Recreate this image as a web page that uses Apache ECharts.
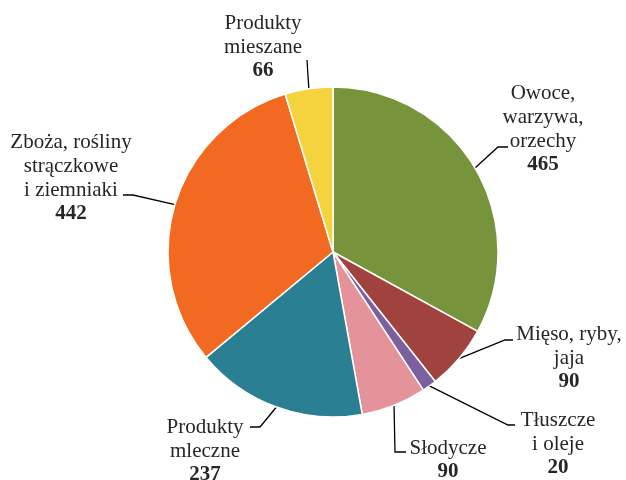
<!DOCTYPE html>
<html>
<head>
<meta charset="utf-8">
<script src="https://cdn.jsdelivr.net/npm/echarts@6/dist/echarts.min.js"></script>
<style>html,body{margin:0;padding:0;background:#fff}#c{width:626px;height:480px}</style>
</head>
<body>
<div id="c"></div>
<script>
const categories = [
  'Owoce,\nwarzywa,\norzechy',
  'Mięso, ryby,\njaja',
  'Tłuszcze\ni oleje',
  'Słodycze',
  'Produkty\nmleczne',
  'Zboża, rośliny\nstrączkowe\ni ziemniaki',
  'Produkty\nmieszane'
];
const values = [465, 90, 20, 90, 237, 442, 66];
const colors = ['#77933C', '#A0433F', '#7C5F9D', '#E5939A', '#2A7F93', '#F26A22', '#F4D33F'];

// label layout: label centre and leader bend points (layout only)
const labelPos = [
  {x: 543, y: 129, line: [[498, 147], [508, 147]]},
  {x: 569, y: 358, line: [[505, 340], [513, 340]]},
  {x: 558, y: 444, line: [[508, 425], [515, 425]]},
  {x: 448, y: 460, line: [[395, 452], [406, 452]]},
  {x: 205, y: 451, line: [[260, 427], [250, 427]]},
  {x: 71,  y: 178, line: [[133, 195], [123, 195]]},
  {x: 263, y: 47,  line: [[307, 60], [307, 60]]}
];

const cx = 333, cy = 252, R = 165;
const total = values.reduce((a, b) => a + b, 0);

const chart = echarts.init(document.getElementById('c'), null, {renderer: 'canvas'});
chart.setOption({
  animation: false,
  series: [{
    type: 'pie',
    center: [cx, cy],
    radius: [0, R],
    startAngle: 90,
    clockwise: true,
    avoidLabelOverlap: false,
    itemStyle: {borderColor: '#ffffff', borderWidth: 1.5},
    emphasis: {disabled: true},
    label: {
      show: true,
      position: 'outside',
      fontFamily: '"Liberation Serif", "Times New Roman", serif',
      fontSize: 21,
      lineHeight: 24,
      color: '#262626',
      align: 'center',
      formatter: p => p.name + '\n{v|' + p.value + '}',
      rich: {
        v: {fontFamily: '"Liberation Serif", serif', fontSize: 21, lineHeight: 24, fontWeight: 'bold', color: '#262626'}
      }
    },
    labelLine: {show: true, length: 10, length2: 10, smooth: false, lineStyle: {color: '#000', width: 1.3}},
    labelLayout: function (params) {
      const i = params.dataIndex;
      const lp = labelPos[i];
      let p0;
      if (params.labelLinePoints && params.labelLinePoints[0]) {
        p0 = params.labelLinePoints[0];
      } else {
        let cum = 0;
        for (let k = 0; k < i; k++) cum += values[k];
        const a = (cum + values[i] / 2) / total * 2 * Math.PI;
        p0 = [cx + R * Math.sin(a), cy - R * Math.cos(a)];
      }
      return {
        x: lp.x, y: lp.y, align: 'center', verticalAlign: 'middle',
        labelLinePoints: [p0, lp.line[0], lp.line[1]]
      };
    },
    data: categories.map((c, i) => ({name: c, value: values[i], itemStyle: {color: colors[i]}}))
  }]
});
</script>
</body>
</html>
